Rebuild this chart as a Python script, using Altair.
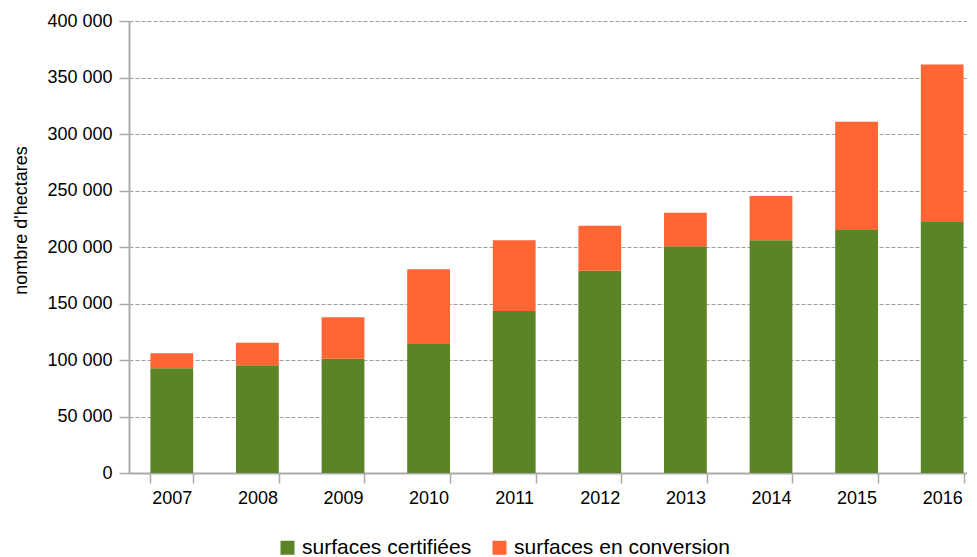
import altair as alt
import pandas as pd

years = ["2007", "2008", "2009", "2010", "2011", "2012", "2013", "2014", "2015", "2016"]
certifiees = [92700, 95300, 101200, 114200, 143400, 179000, 200600, 205900, 215000, 222100]
conversion = [13200, 20000, 36600, 66100, 62500, 39900, 29800, 39200, 95900, 139300]
series_names = ["surfaces certifiées", "surfaces en conversion"]
colors = ["#5B8427", "#FF6633"]
y_ticks = [0, 50000, 100000, 150000, 200000, 250000, 300000, 350000, 400000]

rows = []
for i, y in enumerate(years):
    rows.append({"annee": y, "serie": series_names[0], "valeur": certifiees[i], "ordre": 0})
    rows.append({"annee": y, "serie": series_names[1], "valeur": conversion[i], "ordre": 1})
df = pd.DataFrame(rows)

grey = "#ababab"

chart = alt.Chart(df).mark_bar().encode(
    x=alt.X(
        "annee:N",
        sort=years,
        title=None,
        scale=alt.Scale(paddingInner=0.5, paddingOuter=0.25),
        axis=alt.Axis(
            labelAngle=0,
            tickBand="extent",
            ticks=True,
            tickSize=10,
            tickColor=grey,
            tickWidth=1.5,
            domainColor=grey,
            domainWidth=2,
            labelPadding=6,
            labelFontSize=18,
            labelColor="#000000",
            grid=False,
        ),
    ),
    y=alt.Y(
        "valeur:Q",
        stack="zero",
        scale=alt.Scale(domain=[0, 400000], nice=False),
        axis=alt.Axis(
            values=y_ticks,
            labelExpr="replace(format(datum.value, ','), ',', ' ')",
            title="nombre d'hectares",
            titleFontSize=18,
            titleFontWeight="normal",
            titleColor="#000000",
            titleX=-103,
            titleY=199,
            titleBaseline="alphabetic",
            labelFontSize=18,
            labelColor="#000000",
            labelPadding=7,
            tickSize=10,
            tickColor=grey,
            tickWidth=1.5,
            domainColor=grey,
            domainWidth=2,
            grid=True,
            gridColor="#a0a0a0",
            gridDash=[4, 2],
            gridWidth=1.2,
        ),
    ),
    color=alt.Color(
        "serie:N",
        scale=alt.Scale(domain=series_names, range=colors),
        legend=alt.Legend(
            orient="none",
            legendX=148,
            legendY=516,
            direction="horizontal",
            title=None,
            symbolType="square",
            symbolSize=196,
            symbolStrokeWidth=0,
            symbolOpacity=1,
            labelFontSize=21,
            labelColor="#000000",
            labelOffset=4,
            labelLimit=500,
            columnPadding=17,
        ),
    ),
    order=alt.Order("ordre:Q"),
).properties(
    width=856,
    height=452,
    padding={"left": 4, "top": 4, "right": -18, "bottom": 0},
).configure(
    font="Liberation Sans",
).configure_view(
    stroke=None,
)

chart.save("out.html", embed_options={"renderer": "svg", "actions": False})
